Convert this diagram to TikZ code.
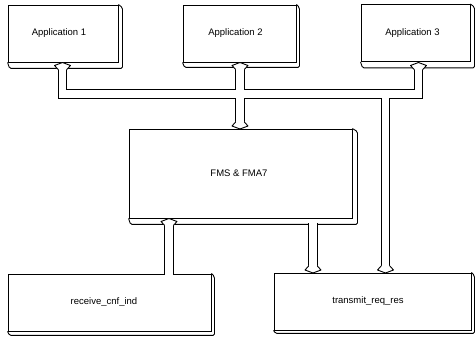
\documentclass[tikz,border=0pt]{standalone}
\usepackage{fontspec}
\setmainfont{Liberation Sans}
\usetikzlibrary{calc}
\newcommand\slab[3]{\draw[edge,rounded corners=1.5pt] (#1.north east) -- ($(#1.north east)+(#2,3)$) -- ($(#1.south east)+(#2,#3)$) -- ($(#1.south west)+(2,#3)$) -- (#1.south west);}
\newcommand\arrdn[2]{%
  \fill[white] (#1-4.8,#2-7) -- (#1-8,#2-3) -- (#1,#2) -- (#1+8,#2-3) -- (#1+4.8,#2-7) -- cycle;
  \draw[edge] (#1-4.35,#2-7) -- (#1-8,#2-3) -- (#1,#2) -- (#1+8,#2-3) -- (#1+4.35,#2-7);}
\newcommand\arrup[2]{%
  \fill[white] (#1-4.8,#2+7) -- (#1-8,#2+3) -- (#1,#2) -- (#1+8,#2+3) -- (#1+4.8,#2+7) -- cycle;
  \draw[edge] (#1-4.35,#2+7) -- (#1-8,#2+3) -- (#1,#2) -- (#1+8,#2+3) -- (#1+4.35,#2+7);}
\begin{document}
\begin{tikzpicture}[x=1pt,y=-1pt,
  box/.style={draw, line width=0.9pt, fill=white, inner sep=0pt, minimum height=57pt},
  lbl/.style={font=\fontsize{9.5}{11}\selectfont, inner sep=0pt},
  edge/.style={line width=0.9pt, line join=round},
  pipeo/.style={line width=9.6pt, black, line join=miter},
  pipei/.style={line width=7.8pt, white, line join=miter}]
\useasboundingbox (0,0) rectangle (475,339);
\fill[white] (0,0) rectangle (475,339);
% boxes
\node[box, minimum width=110pt, label={[lbl,xshift=-4pt]center:Application 1}] (a1) at (63,33.5) {};
\node[box, minimum width=113pt, label={[lbl,xshift=-4pt]center:Application 2}] (a2) at (239.5,33.5) {};
\node[box, minimum width=109pt, label={[lbl,xshift=-3pt]center:Application 3}] (a3) at (415.5,33) {};
\node[box, minimum width=223pt, minimum height=89pt, label={[lbl,xshift=-1.5pt]center:FMS \& FMA7}] (fms) at (240.5,173.5) {};
\node[box, minimum width=203pt, label={[lbl,xshift=-5.5pt]center:receive\_cnf\_ind}] (rcv) at (109.5,302.5) {};
\node[box, minimum width=197pt, label={[lbl,xshift=-4.5pt]center:transmit\_req\_res}] (tx) at (372.5,301.5) {};
\slab{a1}{4}{6}
\slab{a2}{3}{5}
\slab{a3}{4}{6}
\slab{fms}{5}{6}
\slab{rcv}{3}{4}
\slab{tx}{3}{3}
% pipe points
\coordinate (p1) at (62.5,67);
\coordinate (j1) at (62.5,94);
\coordinate (p3) at (418.5,67);
\coordinate (j3) at (418.5,94);
\coordinate (p2) at (240,67);
\coordinate (q2) at (240,124);
\coordinate (jt) at (385.5,94);
\coordinate (qt) at (385.5,268);
\coordinate (pf) at (169,223);
\coordinate (qr) at (169,274.6);
\coordinate (pg) at (313,223);
\coordinate (qg) at (313,268);
% pipes: outline then interior
\foreach \s in {pipeo,pipei}{
  \draw[\s] (p1) -- (j1) -- (j3) -- (p3);
  \draw[\s] (p2) -- (q2);
  \draw[\s] (jt) -- (qt);
  \draw[\s] (pf) -- (qr);
  \draw[\s] (pg) -- (qg);
}
% arrowheads
\arrup{62.5}{62.5}
\arrup{240}{62.5}
\arrup{418.5}{62.5}
\arrdn{240}{129}
\arrup{169}{218.5}
\arrdn{313}{273}
\arrdn{385.5}{273}
\end{tikzpicture}
\end{document}
